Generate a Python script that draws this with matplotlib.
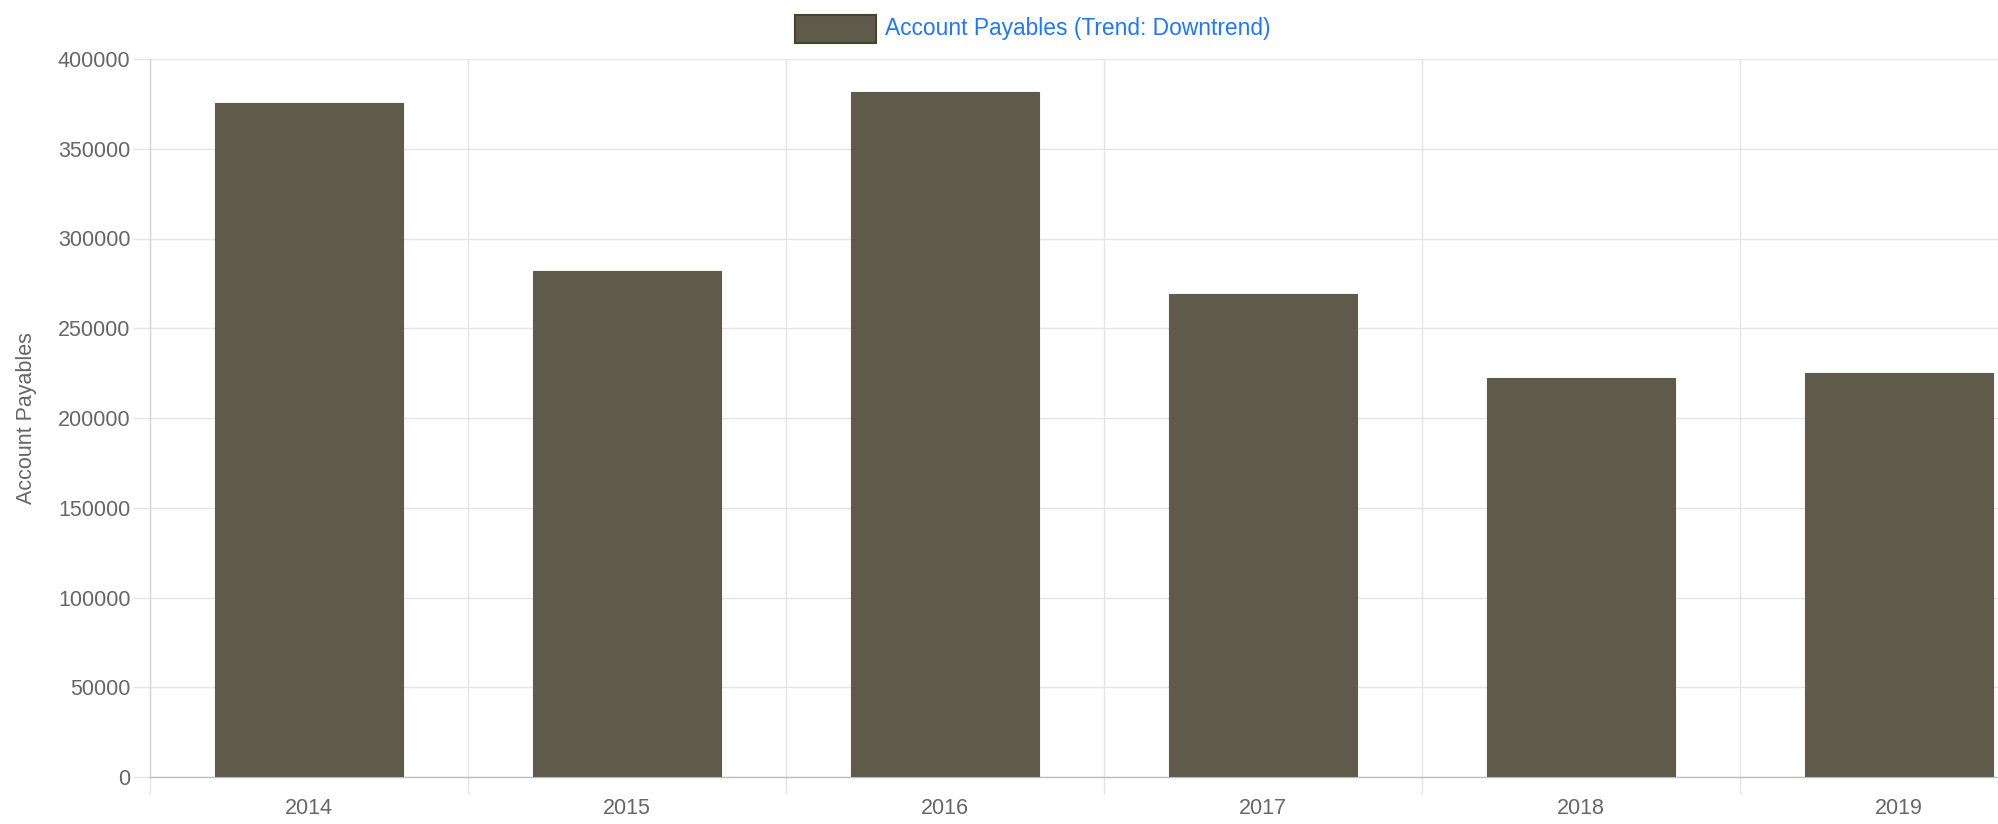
import matplotlib
matplotlib.use("Agg")
import matplotlib.pyplot as plt
from matplotlib.patches import Rectangle

years = ["2014", "2015", "2016", "2017", "2018", "2019"]
payables = [375300, 282100, 381800, 269100, 222100, 224900]
y_ticks = [0, 50000, 100000, 150000, 200000, 250000, 300000, 350000, 400000]

W, H = 1999, 824
fig = plt.figure(figsize=(W / 100, H / 100), dpi=100)
plt.rcParams['font.family'] = ['Liberation Sans', 'DejaVu Sans']

left_px, right_px = 150, 2058
top_px, bottom_px = 59, 777
ax = fig.add_axes([left_px / W, (H - bottom_px) / H,
                   (right_px - left_px) / W, (bottom_px - top_px) / H])

bar_color = "#5e5b4b"
x = list(range(len(years)))
ax.bar(x, payables, width=0.594, color=bar_color, edgecolor=bar_color,
       linewidth=0.8, zorder=3)

ax.set_xlim(-0.5, len(years) - 0.5)
ax.set_ylim(0, 400000)
ax.set_yticks(y_ticks)
ax.set_yticklabels([str(v) for v in y_ticks])
ax.set_xticks(x)
ax.set_xticklabels(years)
ax.set_xticks([i - 0.5 for i in range(len(years) + 1)], minor=True)

grid_c = "#e5e5e5"
ax.grid(axis="y", which="major", color=grid_c, linewidth=1, zorder=0)
ax.grid(axis="x", which="minor", color=grid_c, linewidth=1, zorder=0)
ax.grid(axis="x", which="major", visible=False)

for s in ["top", "right"]:
    ax.spines[s].set_visible(False)
ax.spines["left"].set_color("#d6d6d6")
ax.spines["bottom"].set_color("#bdbdbd")
ax.spines["left"].set_linewidth(1)
ax.spines["bottom"].set_linewidth(1)

ax.tick_params(axis="y", which="major", length=12, color=grid_c, width=1,
               labelsize=15.5, labelcolor="#666666", pad=2)
ax.tick_params(axis="x", which="major", length=0, labelsize=15.5,
               labelcolor="#666666", pad=15)
ax.tick_params(axis="x", which="minor", length=12, color=grid_c, width=1)

ax.set_ylabel("Account Payables", fontsize=15.5, color="#666666", labelpad=15)

# legend
fig.patches.append(Rectangle((795 / W, (H - 43) / H), 81 / W, 28 / H,
                             transform=fig.transFigure, facecolor=bar_color,
                             edgecolor="#45432c", linewidth=1.5))
fig.text(885 / W, (H - 28) / H, "Account Payables (Trend: Downtrend)",
         fontsize=16.4, color="#1e78ff", ha="left", va="center")

fig.savefig("out.png", dpi=100)
